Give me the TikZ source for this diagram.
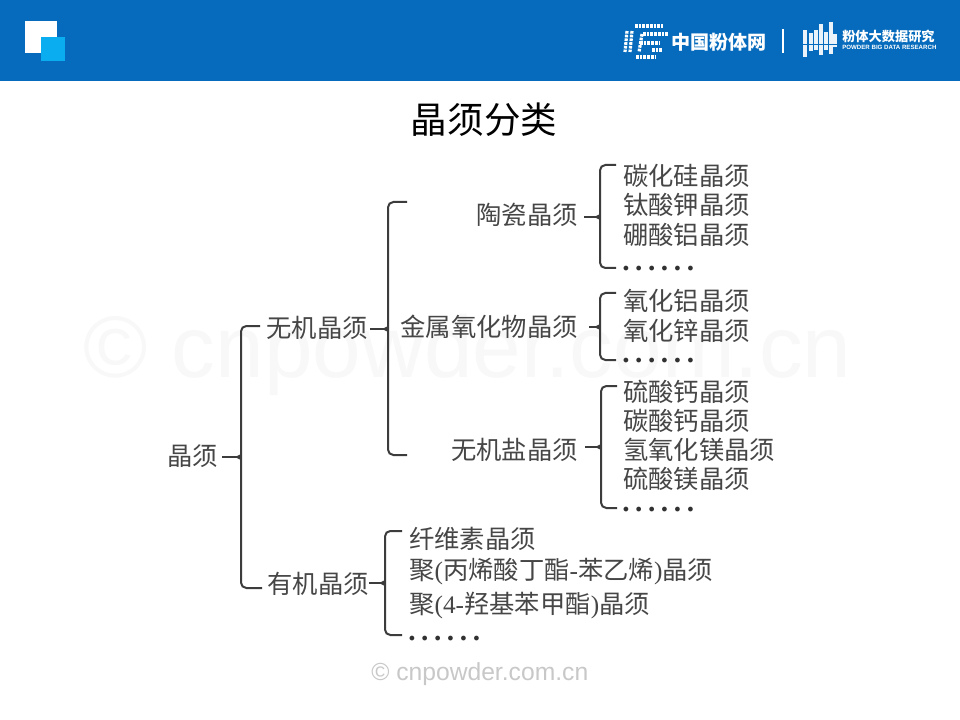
\documentclass[tikz,border=0pt]{standalone}
\usepackage{fontspec}
\setmainfont{Liberation Serif}
\setsansfont{Liberation Sans}
\newfontfamily\cjk{Noto Sans CJK SC}
\newfontfamily\dotfont[LetterSpace=19]{Liberation Serif}
\definecolor{hdr}{RGB}{6,107,188}
\definecolor{cyanbox}{RGB}{10,174,240}
\definecolor{ink}{RGB}{70,70,70}
\definecolor{wm}{RGB}{248,248,248}
\definecolor{wmb}{RGB}{200,200,200}
\newcommand\lat[1]{{\rmfamily #1}}
\tikzset{
  lab/.style={inner sep=0pt,text=ink,font=\cjk\fontsize{19}{19}\selectfont},
  dotsix/.style={inner sep=0pt,text=ink!70!black,font=\dotfont\bfseries\fontsize{22}{22}\selectfont},
  brace/.style={draw=ink!85!black,line width=1.5pt,rounded corners=4pt},
  tick/.style={draw=ink!85!black,line width=1.5pt},
  cusp/.style={fill=ink!85!black},
  logotxt/.style={inner sep=0pt,text=white},
  dotrow/.style={draw=white,line width=2.4pt,dash pattern=on 2pt off 0.8pt},
  barw/.style={draw=white!92!hdr,line width=2.8pt}
}
\begin{document}
\begin{tikzpicture}[x=0.75pt,y=-0.75pt]
\useasboundingbox (0,0) rectangle (960,720);
\fill[white] (0,0) rectangle (960,720);
% header
\fill[hdr] (0,0) rectangle (960,81);
\fill[white] (25,21) rectangle (57,53);
\fill[cyanbox] (41,37) rectangle (65,61);
% left logo
\draw[dotrow] (635,26) -- (663,26);
\draw[dotrow] (627,31) -- (625,52);
\draw[dotrow] (632,31) -- (630,52);
\draw[dotrow] (636,57) -- (655,57);
\draw[dotrow] (643,34) -- (668,34);
\draw[dotrow] (642,34) -- (639,52);
\draw[dotrow] (640,43) -- (660,43);
\draw[dotrow] (652,50) -- (662,50);
\node[logotxt,anchor=west,font=\cjk\bfseries\fontsize{14.3}{14.3}\selectfont] (cnp) at (671,42) {中国粉体网};
\coordinate (sepT) at (783,29);
\coordinate (sepB) at (783,53);
\draw[white,line width=1pt] (sepT) -- (sepB);
% right logo bars
\foreach \x/\a/\b in {805/30/57,811/33/51,816/30/50,821/24/55,826/32/50,831/22/54,835/34/47}
  \draw[barw] (\x,\a) -- (\x,\b);
\draw[hdr,line width=0.7pt] (802,44) -- (838,44);
\node[logotxt,anchor=west,font=\cjk\bfseries\fontsize{9.9}{9.9}\selectfont] (bd) at (842,36) {粉体大数据研究};
\node[logotxt,anchor=west,font=\sffamily\bfseries\fontsize{4.6}{4.6}\selectfont] (bde) at (842,47.5) {POWDER BIG DATA RESEARCH};
% watermark
\node[inner sep=0pt,anchor=base west,text=wm,font=\sffamily\fontsize{65.5}{66}\selectfont] (wmA) at (83,377) {© cnpowder.com.cn};
\node[inner sep=0pt,anchor=base west,text=wmb,font=\sffamily\fontsize{18.5}{19}\selectfont] (wmB) at (371,680) {© cnpowder.com.cn};
% title
\node[inner sep=0pt,text=black,font=\cjk\fontsize{27.4}{28}\selectfont] (title) at (484,120) {晶须分类};
% labels
\node[lab,anchor=east] (root) at (218,456) {晶须};
\node[lab,anchor=east] (inorg) at (368,328) {无机晶须};
\node[lab,anchor=east] (org) at (369,584) {有机晶须};
\node[lab,anchor=east] (cer) at (578,215) {陶瓷晶须};
\node[lab,anchor=east] (met) at (578,327) {金属氧化物晶须};
\node[lab,anchor=east] (sal) at (578,450) {无机盐晶须};
\foreach \n/\y/\t in {a1/176/碳化硅晶须,a2/205/钛酸钾晶须,a3/235/硼酸铝晶须,
  b1/301/氧化铝晶须,b2/331/氧化锌晶须,
  c1/392/硫酸钙晶须,c2/421/碳酸钙晶须,c3/450/氢氧化镁晶须,c4/479/硫酸镁晶须}
  \node[lab,anchor=west] (\n) at (623,\y) {\t};
\node[dotsix,anchor=base west] (a4) at (622,271) {......};
\node[dotsix,anchor=base west] (b3) at (622,362) {......};
\node[dotsix,anchor=base west] (c5) at (622,511) {......};
\node[lab,anchor=west] (d1) at (409,539) {纤维素晶须};
\node[lab,anchor=west] (d2) at (409,572) {聚\lat{(}丙烯酸丁酯\lat{-}苯乙烯\lat{)}晶须};
\node[lab,anchor=west] (d3) at (409,606) {聚\lat{(4-}羟基苯甲酯\lat{)}晶须};
\node[dotsix,anchor=base west] (d4) at (408,640) {......};
% brace coordinates
\coordinate (r1t) at (260,326);\coordinate (r1b) at (262,588);\coordinate (r1m) at (241,457);\coordinate (r1s) at (222,457);
\coordinate (r2t) at (407,202);\coordinate (r2b) at (407,455);\coordinate (r2m) at (388,329);\coordinate (r2s) at (370,329);
\coordinate (r3t) at (616,165);\coordinate (r3b) at (616,268);\coordinate (r3m) at (600,217);\coordinate (r3s) at (584,217);
\coordinate (r4t) at (616,293);\coordinate (r4b) at (616,360);\coordinate (r4m) at (600,327);\coordinate (r4s) at (589,327);
\coordinate (r5t) at (617,386);\coordinate (r5b) at (617,508);\coordinate (r5m) at (601,447);\coordinate (r5s) at (585,447);
\coordinate (r6t) at (402,531);\coordinate (r6b) at (402,635);\coordinate (r6m) at (385,583);\coordinate (r6s) at (369,583);
\foreach \k in {1,...,6}{
  \draw[brace] (r\k t) -| (r\k m) |- (r\k b);
  \draw[tick] (r\k s) -- (r\k m);
  \fill[cusp,shift={(r\k m)}] (-4,-1) -- (0,-3) -- (0,3) -- (-4,1) -- cycle;
}
\end{tikzpicture}
\end{document}
